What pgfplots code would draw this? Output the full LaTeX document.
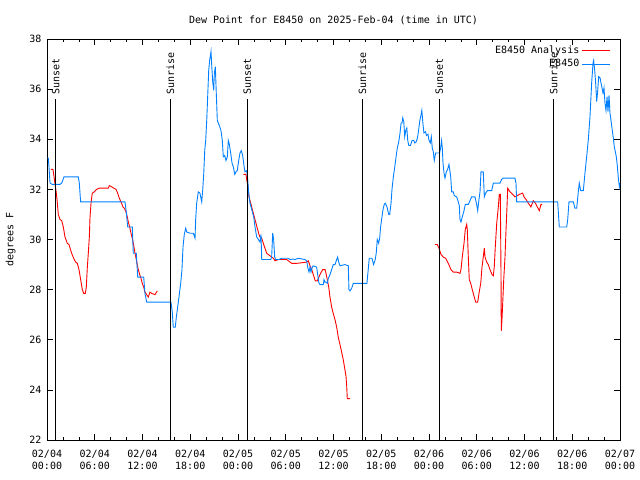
\documentclass[border=0pt]{standalone}
\usepackage{fontspec}
\setmainfont{DejaVu Sans Mono}
\usepackage{pgfplots}
\pgfplotsset{compat=1.18}
\definecolor{gpred}{RGB}{255,0,0}
\definecolor{gpblue}{RGB}{0,128,255}
\begin{document}
\begin{tikzpicture}
\begin{axis}[
  name=ax, scale only axis, width=573bp, height=401bp,
  xmin=0, xmax=72, ymin=22, ymax=38,
  xtick={0,6,...,72}, minor x tick num=2,
  xticklabels={{02/04\\00:00},{02/04\\06:00},{02/04\\12:00},{02/04\\18:00},{02/05\\00:00},{02/05\\06:00},{02/05\\12:00},{02/05\\18:00},{02/06\\00:00},{02/06\\06:00},{02/06\\12:00},{02/06\\18:00},{02/07\\00:00}},
  ytick={22,24,...,38},
  tick align=inside, major tick length=6bp, minor tick length=3bp,
  axis line style={line width=0.8bp}, tick style={black, line width=0.6bp},
  /pgf/number format/assume math mode=true,
  every tick label/.append style={font=\fontsize{10bp}{11.5bp}\selectfont},
  xticklabel style={align=center, yshift=-7bp},
  yticklabel style={xshift=-2bp},
  unbounded coords=jump,
  title={Dew Point for E8450 on 2025-Feb-04 (time in UTC)},
  title style={font=\fontsize{10bp}{11bp}\selectfont, yshift=5bp},
  ylabel={degrees F},
  ylabel style={font=\fontsize{10bp}{11bp}\selectfont, yshift=7bp},
  legend plot pos=right,
  legend cell align=right,
  legend style={draw=none, fill=none, at={(rel axis cs:0.985,0.992)}, anchor=north east,
    font=\fontsize{10bp}{11bp}\selectfont, row sep=1bp, inner sep=1bp},
  legend image code/.code={\draw[#1] (0bp,0bp) -- (28bp,0bp);},
]
\addplot[gpred, line width=0.9bp] coordinates {
(0.50,32.8) (0.75,32.8) (0.84,32.6) (1.13,31.95) (1.26,31.6) (1.42,31.0) (1.63,30.8) (1.85,30.75) (2.05,30.5) (2.26,30.1) (2.55,29.85) (2.76,29.8) (3.10,29.45) (3.35,29.25) (3.60,29.1) (3.81,29.05) (4.02,28.8) (4.23,28.4) (4.44,28.0) (4.61,27.85) (4.81,27.85) (4.94,28.1) (5.06,28.85) (5.19,29.45) (5.32,30.1) (5.40,30.85) (5.53,31.45) (5.69,31.85) (5.94,31.9) (6.24,32.0) (6.57,32.05) (7.07,32.05) (7.70,32.05) (7.83,32.15) (8.13,32.1) (8.38,32.05) (8.67,32.0) (8.88,31.85) (9.08,31.65) (9.30,31.5) (9.55,31.3) (9.71,31.25) (9.93,31.1) (10.09,30.9) (10.22,30.7) (10.39,30.5) (10.55,30.25) (10.72,30.05) (10.93,29.7) (11.06,29.45) (11.22,29.2) (11.40,28.9) (11.60,28.65) (11.81,28.45) (11.97,28.25) (12.15,28.1) (12.31,27.9) (12.53,27.8) (12.73,27.7) (12.94,27.9) (13.16,27.85) (13.57,27.8) (13.86,27.95)
(14,nan)
(24.67,32.6) (25.00,32.6) (25.09,32.4) (25.26,32.1) (25.38,31.7) (25.60,31.45) (25.92,31.05) (26.22,30.7) (26.42,30.45) (26.64,30.2) (26.76,30.1) (26.98,30.05) (27.18,29.85) (27.39,29.65) (27.61,29.45) (27.81,29.4) (28.23,29.3) (28.44,29.25) (28.65,29.15) (29.06,29.2) (29.69,29.2) (30.12,29.2) (30.53,29.1) (30.75,29.05) (31.38,29.05) (32.00,29.07) (32.63,29.1) (32.83,29.15) (33.05,28.95) (33.26,28.8) (33.46,28.6) (33.71,28.35) (33.96,28.35) (34.30,28.6) (34.64,28.8) (34.93,28.8) (35.06,28.65) (35.22,28.4) (35.40,28.1) (35.56,27.7) (35.77,27.3) (35.97,27.05) (36.19,26.8) (36.40,26.5) (36.60,26.1) (36.82,25.8) (37.03,25.5) (37.23,25.2) (37.44,24.8) (37.57,24.55) (37.66,24.15) (37.73,23.65) (38.07,23.65)
(40,nan)
(48.75,29.8) (49.04,29.8) (49.26,29.65) (49.51,29.4) (49.80,29.3) (50.10,29.25) (50.42,29.05) (50.76,28.8) (51.05,28.7) (51.48,28.7) (51.89,28.65) (52.02,28.8) (52.18,29.3) (52.40,29.85) (52.56,30.4) (52.74,30.6) (52.81,30.4) (52.94,29.3) (53.06,28.4) (53.24,28.25) (53.44,28.0) (53.69,27.7) (53.87,27.5) (54.12,27.5) (54.28,27.85) (54.50,28.25) (54.66,28.9) (54.82,29.3) (54.95,29.65) (55.04,29.3) (55.25,29.1) (55.45,29.0) (55.66,28.8) (55.92,28.6) (56.08,28.55) (56.20,28.9) (56.33,29.7) (56.51,30.65) (56.71,31.3) (56.83,31.8) (56.96,31.8) (57.05,28.55) (57.08,26.35) (57.17,26.8) (57.26,27.45) (57.39,28.4) (57.55,29.3) (57.68,30.4) (57.80,31.3) (57.89,32.05) (58.18,31.9) (58.52,31.8) (58.80,31.7) (59.09,31.75) (59.35,31.8) (59.77,31.85) (59.94,31.7) (60.19,31.6) (60.48,31.45) (60.81,31.3) (61.10,31.55) (61.36,31.45) (61.61,31.3) (61.86,31.15) (62.07,31.4) (62.20,31.4)
};
\addlegendentry{E8450 Analysis}
\addplot[gpblue, line width=0.9bp] coordinates {
(0.05,33.25) (0.16,33.25) (0.25,32.9) (0.38,32.25) (0.67,32.2) (1.63,32.2) (1.85,32.25) (2.14,32.5) (2.48,32.5) (3.93,32.5) (4.06,32.25) (4.18,31.7) (4.23,31.5) (9.80,31.5) (9.96,31.1) (10.14,30.5) (10.72,30.5) (10.84,29.45) (11.22,29.45) (11.40,28.5) (12.15,28.5) (12.31,27.85) (12.53,27.5) (15.58,27.5) (15.74,27.1) (15.87,26.5) (16.12,26.5) (16.25,26.9) (16.42,27.3) (16.62,27.8) (16.80,28.25) (16.96,28.8) (17.09,29.7) (17.25,30.2) (17.43,30.45) (17.55,30.3) (17.97,30.25) (18.38,30.25) (18.60,30.05) (18.68,30.8) (18.81,31.45) (19.01,31.9) (19.22,31.85) (19.44,31.5) (19.56,31.95) (19.69,32.6) (19.82,33.55) (19.94,33.95) (20.07,34.75) (20.19,35.7) (20.32,36.75) (20.44,37.15) (20.61,37.5) (20.69,37.0) (20.82,36.3) (20.95,35.95) (21.02,36.6) (21.15,36.9) (21.27,35.85) (21.40,34.75) (21.65,34.55) (21.86,34.35) (22.03,33.95) (22.15,33.3) (22.33,33.35) (22.49,33.15) (22.66,33.3) (22.78,33.95) (22.91,33.8) (23.08,33.45) (23.25,33.05) (23.41,32.9) (23.59,32.6) (23.75,32.7) (23.91,32.75) (24.09,33.15) (24.25,33.45) (24.41,33.55) (24.59,33.35) (24.75,32.95) (24.88,32.7) (25.09,32.75) (25.22,32.4) (25.34,31.85) (25.51,31.45) (25.72,31.2) (25.97,30.9) (26.14,30.5) (26.35,30.1) (26.56,30.0) (26.76,29.9) (26.89,30.2) (26.98,29.2) (28.11,29.2) (28.23,29.3) (28.36,30.25) (28.48,30.0) (28.61,29.3) (28.73,29.2) (29.14,29.2) (29.48,29.25) (30.32,29.25) (30.53,29.2) (30.95,29.22) (31.16,29.2) (31.58,29.25) (32.42,29.2) (32.63,29.15) (32.76,28.9) (32.92,28.7) (33.05,28.9) (33.17,28.7) (33.34,28.9) (33.46,28.95) (33.88,28.9) (34.01,28.6) (34.18,28.25) (34.30,28.2) (34.72,28.2) (34.81,28.4) (34.93,28.3) (35.06,28.3) (35.22,28.25) (35.35,28.45) (35.56,28.6) (35.77,28.8) (35.97,29.0) (36.19,29.0) (36.40,29.2) (36.52,29.3) (36.65,29.1) (36.82,28.95) (37.44,29.0) (37.86,28.95) (37.94,28.0) (38.07,27.95) (38.28,28.05) (38.49,28.25) (40.20,28.25) (40.32,28.65) (40.49,29.25) (40.83,29.25) (41.04,29.0) (41.24,29.2) (41.37,29.45) (41.50,30.0) (41.67,29.85) (41.80,30.05) (41.92,30.5) (42.09,30.9) (42.22,31.2) (42.38,31.4) (42.51,31.45) (42.72,31.3) (42.94,31.0) (43.06,31.0) (43.23,31.45) (43.35,32.0) (43.52,32.5) (43.70,32.9) (43.86,33.3) (44.02,33.65) (44.20,33.9) (44.36,34.25) (44.49,34.65) (44.61,34.65) (44.70,34.85) (44.83,34.7) (44.95,34.1) (45.08,34.35) (45.21,34.45) (45.33,33.95) (45.46,33.75) (45.66,33.75) (45.88,33.95) (46.09,33.95) (46.22,33.85) (46.39,33.9) (46.55,34.05) (46.73,34.45) (46.85,34.75) (46.98,34.95) (47.10,35.15) (47.23,34.65) (47.36,34.25) (47.56,34.3) (47.69,34.15) (47.87,34.2) (48.00,33.95) (48.16,33.85) (48.29,34.1) (48.41,33.65) (48.54,33.5) (48.66,33.15) (48.83,33.45) (49.04,33.45) (49.33,33.45) (49.46,33.65) (49.58,33.95) (49.67,33.65) (49.76,33.05) (49.89,32.65) (50.01,32.45) (50.18,32.7) (50.34,32.8) (50.51,33.0) (50.73,32.5) (50.85,31.9) (51.05,31.9) (51.18,31.75) (51.48,31.7) (51.68,31.5) (51.81,31.35) (51.89,30.8) (52.02,30.7) (52.18,30.9) (52.40,31.15) (52.56,31.4) (52.94,31.4) (53.15,31.55) (53.36,31.7) (53.78,31.7) (53.99,31.4) (54.12,31.15) (54.28,31.6) (54.41,31.9) (54.53,32.7) (54.82,32.7) (54.95,31.7) (55.12,31.85) (55.33,31.95) (55.88,31.95) (56.08,32.25) (56.92,32.25) (57.13,32.4) (57.33,32.45) (58.80,32.45) (58.93,32.25) (59.02,31.5) (64.17,31.5) (64.37,30.5) (65.30,30.5) (65.43,30.8) (65.59,31.5) (66.13,31.5) (66.34,31.25) (66.56,31.25) (66.76,31.9) (66.88,32.25) (67.06,31.95) (67.39,31.95) (67.60,32.65) (67.81,33.3) (68.01,33.95) (68.23,34.9) (68.44,36.25) (68.61,37.05) (68.69,37.15) (68.82,36.75) (68.94,36.25) (69.07,35.5) (69.20,35.95) (69.32,36.5) (69.49,36.45) (69.61,36.25) (69.74,36.05) (69.86,35.85) (69.99,36.05) (70.11,35.45) (70.24,35.15) (70.37,35.7) (70.49,35.1) (70.62,35.75) (70.74,35.05) (70.87,34.75) (71.03,34.35) (71.16,34.05) (71.28,33.7) (71.41,33.5) (71.54,33.3) (71.66,32.95) (71.79,32.45) (71.92,32.1) (72.0,32.25)
};
\addlegendentry{E8450}
\foreach \h/\t in {1.09/Sunset,15.5/Sunrise,25.17/Sunset,39.62/Sunrise,49.29/Sunset,63.66/Sunrise}{
  \edef\tmp{\noexpand\draw[black, line width=0.9bp] (axis cs:\h,22) -- (axis cs:\h,35.6);
    \noexpand\node[rotate=90, anchor=west, inner sep=0pt, font=\noexpand\fontsize{10bp}{11bp}\noexpand\selectfont] at (axis cs:\h,35.78) {\t};}
  \tmp
}
\end{axis}
\pgfresetboundingbox
\path ([xshift=-47bp,yshift=-40bp]ax.south west) rectangle ([xshift=20bp,yshift=39bp]ax.north east);
\end{tikzpicture}
\end{document}
